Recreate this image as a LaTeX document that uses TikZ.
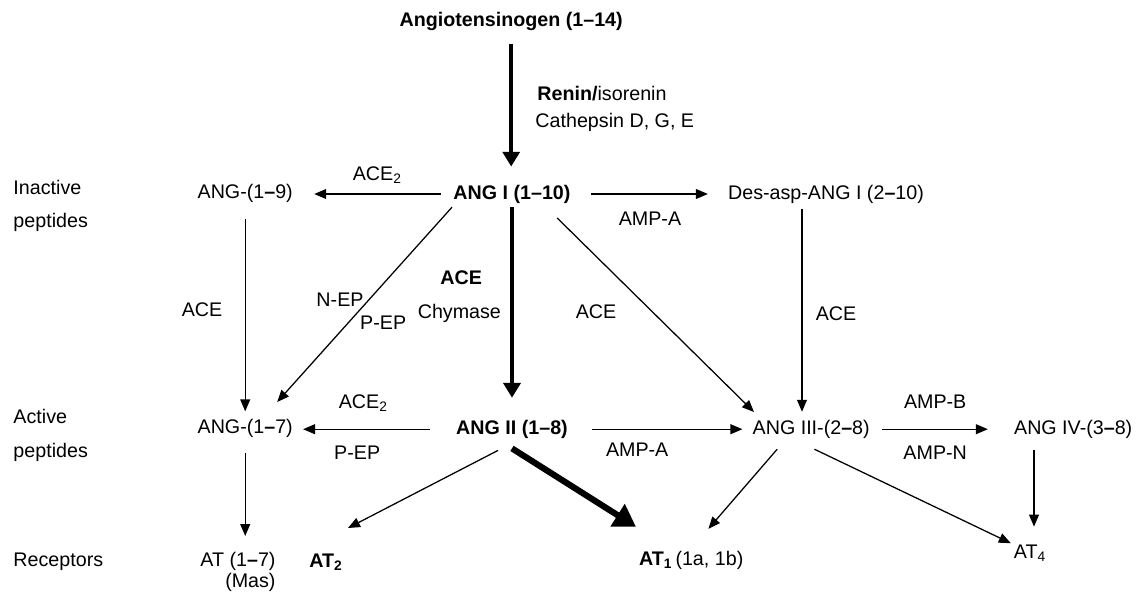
\documentclass[tikz,border=0pt]{standalone}
\usepackage{fontspec}
\setmainfont{Liberation Sans}
\usetikzlibrary{arrows.meta}

\begin{document}
\begin{tikzpicture}[every node/.style={font=\fontsize{14}{16}\selectfont,inner sep=0pt},
  pepbold/.style={font=\fontsize{14}{16}\selectfont\bfseries},
  flow/.style={-{Triangle[width=7pt,length=8.5pt]},line width=0.9pt},
  mainflow/.style={-{Triangle[width=12pt,length=10.5pt]},line width=2.8pt},
  at1flow/.style={-{Triangle[width=18pt,length=15.5pt]},line width=4.4pt}]
\useasboundingbox (0,0) rectangle (28.45,-14.975);
% peptides
\node[pepbold] (agt) at (12.78,-0.53) {Angiotensinogen (1--14)};
\node[pepbold] (ang1) at (12.80,-4.85) {ANG I (1--10)};
\node (ang19) at (6.13,-4.83) {ANG-(1\textbf{--}9)};
\node (desasp) at (20.65,-4.85) {Des-asp-ANG I (2\textbf{--}10)};
\node[pepbold] (ang2) at (12.80,-10.73) {ANG II (1--8)};
\node (ang17) at (6.13,-10.70) {ANG-(1\textbf{--}7)};
\node (ang3) at (20.28,-10.73) {ANG III-(2\textbf{--}8)};
\node (ang4) at (26.83,-10.73) {ANG IV-(3\textbf{--}8)};
% receptors
\node[align=right] (at17) at (5.95,-14.30) {AT (1\textbf{--}7)\\[-1pt](Mas)};
\node (at2) at (8.15,-14.05) {\textbf{AT\textsubscript{2}}};
\node (at1) at (17.28,-14.0) {\textbf{AT\textsubscript{1}}\,(1a, 1b)};
\node (at4) at (25.75,-13.83) {AT\textsubscript{4}};
% row labels
\node[anchor=west,align=left] (inact) at (0.33,-5.14) {Inactive\\[7.5pt]peptides};
\node[anchor=west,align=left] (act) at (0.33,-10.88) {Active\\[8pt]peptides};
\node[anchor=west] (rec) at (0.33,-14.05) {Receptors};
% enzymes
\node[anchor=west] (renin) at (13.43,-2.33) {\textbf{Renin/}isorenin};
\node[anchor=west] (cath) at (13.38,-3.05) {Cathepsin D, G, E};
\node (ace2a) at (9.43,-4.38) {ACE\textsubscript{2}};
\node (ampa1) at (16.25,-5.48) {AMP-A};
\node (acea) at (5.05,-7.75) {ACE};
\node (nep) at (8.5,-7.5) {N-EP};
\node (pep1) at (9.58,-8.08) {P-EP};
\node[pepbold] (aceb) at (11.53,-6.95) {ACE};
\node[anchor=east] (chym) at (12.53,-7.83) {Chymase};
\node (acec) at (14.9,-7.8) {ACE};
\node (aced) at (20.9,-7.85) {ACE};
\node (ace2b) at (9.08,-10.08) {ACE\textsubscript{2}};
\node (pep2) at (8.93,-11.33) {P-EP};
\node (ampa2) at (15.93,-11.25) {AMP-A};
\node (ampb) at (23.38,-10.05) {AMP-B};
\node (ampn) at (23.38,-11.33) {AMP-N};
% conversions
\draw[mainflow,shorten <=0.33cm,shorten >=0.45cm] (agt.south) -- (agt.south |- ang1.north);
\draw[mainflow,shorten <=0.1cm,shorten >=0.55cm] (ang1.south) -- (ang2.north);
\draw[flow,shorten <=0.3cm,shorten >=0.53cm] (ang1.west) -- (ang1.west -| ang19.east);
\draw[flow,shorten <=0.5cm,shorten >=0.5cm] (ang1.east) -- (desasp.west);
\draw[flow,shorten <=0.4cm,shorten >=0.18cm] (ang19.south) -- (ang17.north);
\draw[flow] ([shift={(-1.5,-0.33)}]ang1.center) -- ([shift={(0.8,0.65)}]ang17.center);
\draw[flow] ([shift={(1.13,-0.6)}]ang1.center) -- ([shift={(-1.43,0.43)}]ang3.center);
\draw[flow,shorten <=0.13cm,shorten >=0.2cm] ([xshift=-0.6cm]desasp.south) -- ([xshift=-0.6cm]desasp.south |- ang3.north);
\draw[flow,shorten <=0.65cm,shorten >=0.25cm] (ang2.west) -- (ang2.west -| ang17.east);
\draw[flow,shorten <=0.6cm,shorten >=0.25cm] (ang2.east) -- (ang3.west);
\draw[flow,shorten <=0.3cm,shorten >=0.65cm] (ang3.east) -- (ang4.west);
% to receptors
\draw[flow,shorten <=0.38cm,shorten >=0.4cm] (ang17.south) -- (ang17.south |- at17.north);
\draw[flow,shorten <=0.28cm,shorten >=0.45cm] ([xshift=-0.98cm]ang4.south) -- ([xshift=-0.98cm]ang4.south |- at4.north);
\draw[flow] ([shift={(-0.35,-0.53)}]ang2.center) -- ([shift={(0.55,0.85)}]at2.center);
\draw[at1flow] ([shift={(0,-0.48)}]ang2.center) -- ([shift={(-1.38,0.83)}]at1.center);
\draw[flow] ([shift={(-0.85,-0.5)}]ang3.center) -- ([shift={(0.43,0.78)}]at1.center);
\draw[flow] ([shift={(0.08,-0.5)}]ang3.center) -- ([shift={(-0.48,0.25)}]at4.center);
\end{tikzpicture}
\end{document}
